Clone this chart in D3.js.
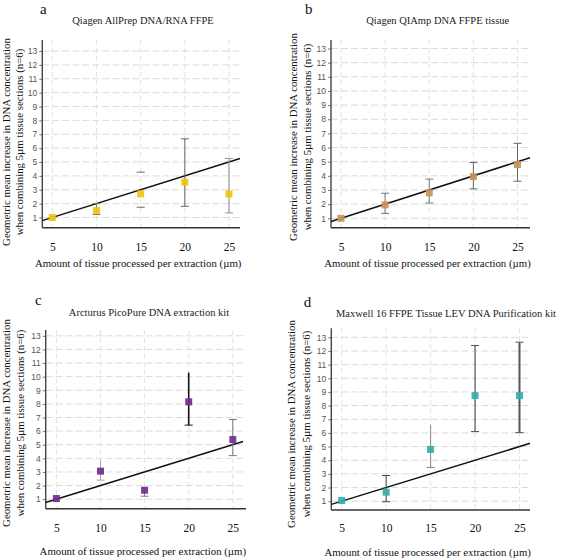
<!DOCTYPE html>
<html><head><meta charset="utf-8">
<script src="https://cdn.jsdelivr.net/npm/d3@7"></script>
<style>body{margin:0;background:#fff}svg{display:block}</style>
</head><body>
<svg id="c" width="563" height="559"></svg>
<script>
// ---------- data ----------
const xValues = [5, 10, 15, 20, 25];
const yTicks = [1,2,3,4,5,6,7,8,9,10,11,12,13];
const panelLetters = ["a", "b", "c", "d"];
const panelTitles = [
  "Qiagen AllPrep DNA/RNA FFPE",
  "Qiagen QIAmp DNA FFPE tissue",
  "Arcturus PicoPure DNA extraction kit",
  "Maxwell 16 FFPE Tissue LEV DNA Purification kit"
];
const yTitleLine1 = "Geometric mean increase in DNA concentration";
const yTitleLine2 = "when combining 5\u00b5m tissue sections (n=6)";
const xTitle = "Amount of tissue processed per extraction (\u00b5m)";
const refSlope = 1 / 5; // expected increase: value = amount / 5

const meanA = [1.0, 1.5, 2.7, 3.55, 2.7];
const lowA  = [0.95, 1.22, 1.74, 1.81, 1.33];
const highA = [1.1, 2.0, 4.27, 6.67, 5.26];

const meanB = [1.0, 1.95, 2.8, 3.95, 4.8];
const lowB  = [0.95, 1.35, 2.08, 3.08, 3.62];
const highB = [1.05, 2.77, 3.77, 4.95, 6.3];

const meanC = [1.05, 3.06, 1.66, 8.15, 5.38];
const lowC  = [1.0, 2.4, 1.22, 6.44, 4.2];
const highC = [1.1, 3.9, 1.75, 10.3, 6.85];

const meanD = [1.05, 1.66, 4.79, 8.73, 8.73];
const lowD  = [1.0, 0.96, 3.47, 6.1, 6.02];
const highD = [1.1, 2.88, 6.6, 12.4, 12.64];

// ---------- layout & style ----------
const panels = [
  { mean: meanA, low: lowA, high: highA, color: "#f1c40f",
    x5: 52.3, x25: 229, y1: 217.5, y13: 51, left: 42.3, right: 240, top: 40, bottom: 227.7, lineEnd: 240,
    letterX: 40, letterY: 13.5, titleX: 143, titleY: 24, yt1X: 9.5, yt2X: 22.5, ytY: 142, tickY: 252, xtY: 267,
    stem: ["#555", "#777", null, "#666", "#999"], stemW: [1,1,1,1,1.2],
    capTop: [0,1,1,1,1], capBot: [0,1,1,1,1] },
  { mean: meanB, low: lowB, high: highB, color: "#c9935a",
    x5: 341, x25: 517.5, y1: 218.3, y13: 48.5, left: 331, right: 530, top: 40, bottom: 227.7, lineEnd: 530,
    letterX: 305, letterY: 13.5, titleX: 437.7, titleY: 23.5, yt1X: 296.5, yt2X: 310.5, ytY: 137, tickY: 252, xtY: 267,
    stem: ["#666", "#777", "#777", "#666", "#666"], stemW: [1,1,1,1,1],
    capTop: [0,1,1,1,1], capBot: [0,1,1,1,1] },
  { mean: meanC, low: lowC, high: highC, color: "#732c8c",
    x5: 56.4, x25: 232.8, y1: 499.2, y13: 335.8, left: 45.7, right: 246, top: 330, bottom: 508.7, lineEnd: 243,
    letterX: 35, letterY: 305, titleX: 149, titleY: 315.5, yt1X: 9.5, yt2X: 23.5, ytY: 423, tickY: 532.5, xtY: 555,
    stem: ["#555", "#aaa", "#777", "#111", "#777"], stemW: [1,1,1,1.6,1],
    capTop: [0,0,0,0,1], capBot: [0,1,1,1,1] },
  { mean: meanD, low: lowD, high: highD, color: "#35aeac",
    x5: 341.7, x25: 519.5, y1: 501.2, y13: 337.3, left: 331.3, right: 530, top: 328.3, bottom: 510, lineEnd: 530,
    letterX: 303.7, letterY: 306.5, titleX: 446, titleY: 316.5, yt1X: 294.5, yt2X: 309.5, ytY: 424, tickY: 533, xtY: 556,
    stem: ["#555", "#444", "#888", "#555", "#555"], stemW: [1,1,1,1.2,2],
    capTop: [0,1,0,1,1], capBot: [0,1,1,1,1] }
];

const serif = "Liberation Serif, Times New Roman, serif";
const sans = "Liberation Sans, Arial, sans-serif";
const svg = d3.select("#c");

panels.forEach((p, i) => {
  const x = d3.scaleLinear().domain([5, 25]).range([p.x5, p.x25]);
  const y = d3.scaleLinear().domain([1, 13]).range([p.y1, p.y13]);
  const g = svg.append("g");

  // grid
  g.selectAll(".hg").data(yTicks).join("line")
    .attr("x1", p.left).attr("x2", p.right)
    .attr("y1", d => y(d)).attr("y2", d => y(d))
    .attr("stroke", "#d2d2d2").attr("stroke-width", 0.8).attr("stroke-dasharray", "7,3");
  g.selectAll(".vg").data(xValues).join("line")
    .attr("x1", d => x(d)).attr("x2", d => x(d))
    .attr("y1", p.top).attr("y2", p.bottom)
    .attr("stroke", "#dadada").attr("stroke-width", 0.8).attr("stroke-dasharray", "5,3");

  // y axis ticks + labels
  const ya = g.append("g").attr("transform", `translate(${p.left},0)`)
    .call(d3.axisLeft(y).tickValues(yTicks).tickSize(3).tickPadding(2).tickFormat(d3.format("d")));
  ya.select(".domain").remove();
  ya.selectAll("line").attr("stroke", "#777");
  ya.selectAll("text").attr("font-family", sans).attr("font-size", 8.5).attr("fill", "#555");

  // x axis labels
  const xa = g.append("g").attr("transform", `translate(0,${p.tickY - 9})`)
    .call(d3.axisBottom(x).tickValues(xValues).tickSize(0).tickPadding(0).tickFormat(d3.format("d")));
  xa.select(".domain").remove();
  xa.selectAll("text").attr("font-family", serif).attr("font-size", 11.5).attr("fill", "#111");

  // axis lines
  g.append("line").attr("x1", p.left).attr("x2", p.left).attr("y1", p.top).attr("y2", p.bottom)
    .attr("stroke", "#444").attr("stroke-width", 1.4);
  g.append("line").attr("x1", p.left).attr("x2", p.right).attr("y1", p.bottom).attr("y2", p.bottom)
    .attr("stroke", "#333").attr("stroke-width", 1.4);

  // reference line
  const xs = x.invert(p.left), xe = x.invert(p.lineEnd);
  g.append("line")
    .attr("x1", x(xs)).attr("y1", y(xs * refSlope))
    .attr("x2", x(xe)).attr("y2", y(xe * refSlope))
    .attr("stroke", "#111").attr("stroke-width", 1.5);

  // error bars
  xValues.forEach((xv, k) => {
    const cx = x(xv);
    if (p.stem[k]) {
      g.append("line").attr("x1", cx).attr("x2", cx)
        .attr("y1", y(p.low[k])).attr("y2", y(p.high[k]))
        .attr("stroke", p.stem[k]).attr("stroke-width", p.stemW[k]);
    }
    const capCol = p.stem[k] || "#666";
    if (p.capTop[k]) g.append("line").attr("x1", cx - 4).attr("x2", cx + 4)
      .attr("y1", y(p.high[k])).attr("y2", y(p.high[k])).attr("stroke", capCol).attr("stroke-width", 1);
    if (p.capBot[k]) g.append("line").attr("x1", cx - 4).attr("x2", cx + 4)
      .attr("y1", y(p.low[k])).attr("y2", y(p.low[k])).attr("stroke", capCol).attr("stroke-width", 1);
  });

  // points
  g.selectAll(".pt").data(p.mean).join("rect")
    .attr("x", (d, k) => x(xValues[k]) - 3.5).attr("y", d => y(d) - 3.5)
    .attr("width", 7).attr("height", 7).attr("fill", p.color).attr("opacity", 0.92);

  // texts
  g.append("text").text(panelLetters[i]).attr("x", p.letterX).attr("y", p.letterY)
    .attr("font-family", serif).attr("font-size", 15).attr("fill", "#111");
  g.append("text").text(panelTitles[i]).attr("x", p.titleX).attr("y", p.titleY)
    .attr("text-anchor", "middle").attr("font-family", serif).attr("font-size", 10.5).attr("fill", "#222");
  g.append("text").text(yTitleLine1)
    .attr("transform", `translate(${p.yt1X},${p.ytY}) rotate(-90)`)
    .attr("text-anchor", "middle").attr("font-family", serif).attr("font-size", 10.8).attr("fill", "#111");
  g.append("text").text(yTitleLine2)
    .attr("transform", `translate(${p.yt2X},${p.ytY}) rotate(-90)`)
    .attr("text-anchor", "middle").attr("font-family", serif).attr("font-size", 10.8).attr("fill", "#111");
  g.append("text").text(xTitle).attr("x", (p.left + p.right) / 2 - 3).attr("y", p.xtY)
    .attr("text-anchor", "middle").attr("font-family", serif).attr("font-size", 10.8).attr("fill", "#111");
});
</script>
</body></html>
